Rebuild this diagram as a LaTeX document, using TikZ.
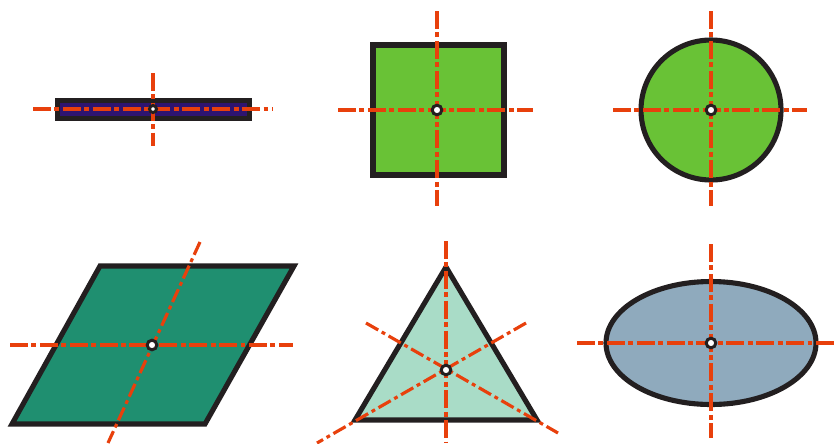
\documentclass[tikz,border=0pt]{standalone}
\usepackage{tikz}
\definecolor{ink}{HTML}{231F20}
\definecolor{axisred}{HTML}{E8400C}
\definecolor{barpurple}{HTML}{2E1470}
\definecolor{leafgreen}{HTML}{69C236}
\definecolor{seagreen}{HTML}{1F8F70}
\definecolor{mint}{HTML}{A9DCC7}
\definecolor{slateblue}{HTML}{8FAABD}
\tikzset{solid body/.style={draw=ink,line width=2.9pt,line join=miter},axis/.style={draw=axisred,line width=2.8pt,dash pattern=on 10.2pt off 2pt on 2.8pt off 2pt},thinaxis/.style={axis,line width=1.8pt,dash pattern=on 8pt off 2.3pt on 2.2pt off 2.3pt},hub/.style={draw=ink,fill=white,line width=1.7pt}}

\begin{document}
\begin{tikzpicture}[x=0.02cm,y=-0.02cm]
\useasboundingbox (0,0) rectangle (837,443);
% centres
\coordinate (c1) at (153,109);\coordinate (c2) at (437,110);\coordinate (c3) at (711,110);
\coordinate (c4) at (152,345);\coordinate (c5) at (446,370);\coordinate (c6) at (711,343);
% flat bar
\draw[solid body,fill=barpurple] (57.5,100.5) rectangle (249.5,118.5);
\draw[axis,line width=2.2pt] (33,109)--(273,109);\draw[axis] (153,73)--(153,146);
\draw[hub] (c1) circle (3.5);
% square
\draw[solid body,fill=leafgreen] (373,45) rectangle (504,175);
\draw[axis] (338,110)--(533,110);\draw[axis] (437,11)--(437,206);
\draw[hub] (c2) circle (4.8);
% circle
\draw[solid body,fill=leafgreen] (c3) circle (70);
\draw[axis] (613,110)--(807,110);\draw[axis] (711,11)--(711,206);
\draw[hub] (c3) circle (4.8);
% parallelogram
\draw[solid body,fill=seagreen] (100,266)--(294,266)--(205,424)--(12,424)--cycle;
\draw[axis] (10,345)--(293,345);\draw[thinaxis] (200,242)--(108,443);
\draw[hub] (c4) circle (4.8);
% triangle
\draw[solid body,fill=mint] (446,267)--(537,420)--(355,420)--cycle;
\draw[axis] (446,241)--(446,443);
\draw[thinaxis] (366,323)--(558,433);\draw[thinaxis] (526,323)--(317,443);
\draw[hub] (c5) circle (4.8);
% ellipse
\draw[solid body,fill=slateblue] (c6) ellipse (105 and 61.5);
\draw[axis] (577,343)--(837,343);\draw[axis] (711,244)--(711,438);
\draw[hub] (c6) circle (4.8);
\end{tikzpicture}
\end{document}
